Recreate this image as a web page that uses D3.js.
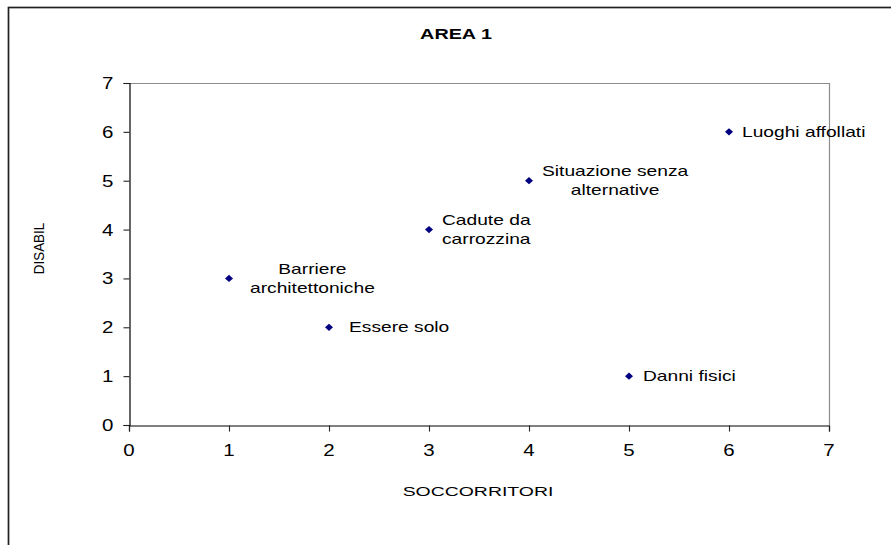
<!DOCTYPE html>
<html><head><meta charset="utf-8">
<script src="https://cdn.jsdelivr.net/npm/d3@7"></script>
<style>
body{margin:0;background:#fff}
svg{display:block}
text{font-family:"Liberation Sans",Arial,Helvetica,sans-serif;fill:#000}
</style>
</head><body>
<svg id="c" width="891" height="545"></svg>
<script>
// ---- data ----
const chartTitle = "AREA 1";
const xTitle = "SOCCORRITORI";
const yTitle = "DISABIL";
const pointLabels = [
  ["Barriere", "architettoniche"],
  ["Essere solo"],
  ["Cadute da", "carrozzina"],
  ["Situazione senza", "alternative"],
  ["Danni fisici"],
  ["Luoghi affollati"]
];
const soccorritori = [1, 2, 3, 4, 5, 6];
const disabil = [3, 2, 4, 5, 1, 6];
const xTicks = [0, 1, 2, 3, 4, 5, 6, 7];
const yTicks = [0, 1, 2, 3, 4, 5, 6, 7];
// label gap (px) to the right of each marker
const labelGap = [21, 20, 13, 13, 14, 13];

// ---- layout ----
const svg = d3.select("#c");
const plot = {left: 129, right: 829, top: 83, bottom: 425};
const SX = 1.28; // horizontal stretch of the original picture

const x = d3.scaleLinear().domain([0, 7]).range([plot.left, plot.right]);
const y = d3.scaleLinear().domain([0, 7]).range([plot.bottom, plot.top]);

// outer frame (cut by the picture on right and bottom)
svg.append("rect")
  .attr("x", 8.5).attr("y", 7.5).attr("width", 1000).attr("height", 800)
  .attr("fill", "none").attr("stroke", "#222").attr("stroke-width", 1.7);

// plot border top / right in gray
svg.append("path")
  .attr("d", `M${plot.left},${plot.top + 0.5}H${plot.right + 0.5}V${plot.bottom}`)
  .attr("fill", "none").attr("stroke", "#8c8c8c").attr("stroke-width", 1.2);

function stretchedText(sel, str, tx, ty, size, sx, anchor, weight) {
  return sel.append("text")
    .attr("transform", `translate(${tx},${ty}) scale(${sx},1)`)
    .attr("text-anchor", anchor || "start")
    .attr("font-size", size)
    .attr("font-weight", weight || "normal")
    .text(str);
}

// x axis
const xAxis = d3.axisBottom(x).tickValues(xTicks).tickSize(6).tickFormat("");
const gx = svg.append("g").attr("transform", `translate(0,${plot.bottom + 0.5})`).call(xAxis);
gx.select(".domain").attr("stroke", "#000").attr("stroke-width", 1.2);
gx.selectAll(".tick line").attr("stroke", "#222").attr("stroke-width", 1.1);
xTicks.forEach(v => stretchedText(svg, d3.format("d")(v), x(v), 456, 16, SX, "middle"));

// y axis
const yAxis = d3.axisLeft(y).tickValues(yTicks).tickSize(6).tickFormat("");
const gy = svg.append("g").attr("transform", `translate(${plot.left + 0.5},0)`).call(yAxis);
gy.select(".domain").attr("stroke", "#000").attr("stroke-width", 1.2);
gy.selectAll(".tick line").attr("stroke", "#222").attr("stroke-width", 1.1);
yTicks.forEach(v => stretchedText(svg, d3.format("d")(v), 113.5, y(v) + 6, 16, SX, "end"));

// titles
stretchedText(svg, chartTitle, 456, 38.5, 15, 1.32, "middle", "bold");
stretchedText(svg, xTitle, 478, 496, 12, 1.62, "middle");
svg.append("text")
  .attr("transform", "translate(44,248.5) rotate(-90) scale(1,1.15)")
  .attr("text-anchor", "middle").attr("font-size", 13.4)
  .text(yTitle);

// markers
const pts = soccorritori.map((v, i) => ({sx: v, dy: disabil[i], lab: pointLabels[i], gap: labelGap[i]}));
const diamond = "M0,-3.6L4,0L0,3.6L-4,0Z";
svg.append("g").selectAll("path").data(pts).join("path")
  .attr("d", diamond)
  .attr("transform", d => `translate(${x(d.sx)},${y(d.dy)})`)
  .attr("fill", "#000080");

// data labels
pts.forEach(d => {
  const g = svg.append("g").attr("transform", `translate(${x(d.sx) + d.gap},${y(d.dy)})`);
  const n = d.lab.length;
  const lines = d.lab.map((s, i) => stretchedText(g, s, 0, (i - (n - 1) / 2) * 19.5 + 5, 15, SX, "start"));
  const widths = lines.map(t => t.node().getComputedTextLength() * SX);
  const maxW = d3.max(widths);
  lines.forEach((t, i) => {
    const ty = (i - (n - 1) / 2) * 19.5 + 5;
    t.attr("transform", `translate(${(maxW - widths[i]) / 2},${ty}) scale(${SX},1)`);
  });
});
</script>
</body></html>
